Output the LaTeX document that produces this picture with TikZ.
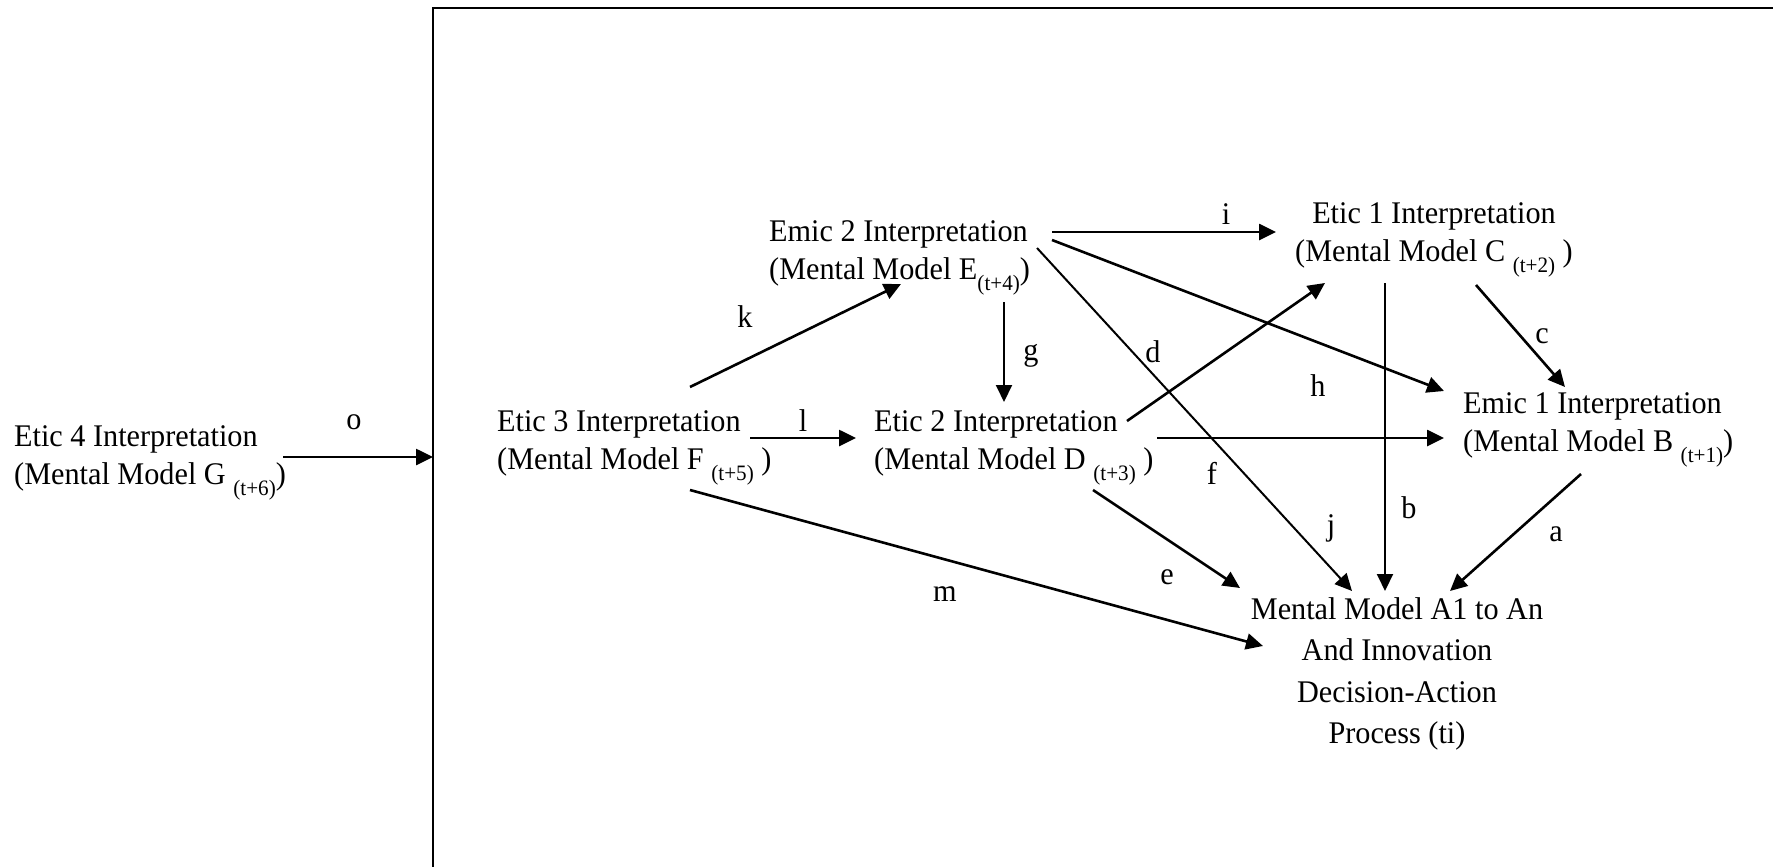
\documentclass[tikz,border=0pt]{standalone}
\usepackage{fontspec}
\setmainfont{Liberation Serif}[FakeStretch=0.96]
\usetikzlibrary{arrows.meta}
% lowered, smaller time index
\newcommand\tsub[1]{\raisebox{-11pt}{\fontsize{22}{22}\selectfont #1}}
\begin{document}
\begin{tikzpicture}[x=1pt,y=-1pt,
  txt/.style={inner sep=0pt, font=\fontsize{31.5}{38}\selectfont},
  lbl/.style={inner sep=0pt, font=\fontsize{31.5}{36}\selectfont},
  arr/.style={line width=2.6pt, -{Triangle[length=17pt,width=16pt]}},
  thinarr/.style={arr, line width=2pt}]
\useasboundingbox (0,0) rectangle (1773,867);
\fill[white] (0,0) rectangle (1773,867);

% frame around the inner model
\draw[line width=1.5pt] (1773,8) -- (433,8) -- (433,867);
\coordinate (frame) at (433,457);

% interpretations
\node[txt, anchor=north west, align=left] (G) at (14,425)
  {Etic 4 Interpretation\\(Mental Model G \tsub{(t+6)})};
\node[txt, anchor=north west, align=left] (F) at (497,410)
  {Etic 3 Interpretation\\(Mental Model F \tsub{(t+5)} )};
\node[txt, anchor=north west, align=left] (E) at (769,220)
  {Emic 2 Interpretation\\(Mental Model E\tsub{(t+4)})};
\node[txt, anchor=north west, align=left] (D) at (874,410)
  {Etic 2 Interpretation\\(Mental Model D \tsub{(t+3)} )};
\node[txt, anchor=north, align=center] (C) at (1434,202)
  {Etic 1 Interpretation\\(Mental Model C \tsub{(t+2)} )};
\node[txt, anchor=north west, align=left] (B) at (1463,392)
  {Emic 1 Interpretation\\(Mental Model B \tsub{(t+1)})};
\node[txt, anchor=north, align=center, font=\fontsize{31.5}{41.5}\selectfont] (A) at (1397,597)
  {Mental Model A1 to An\\And Innovation\\Decision-Action\\Process (ti)};

% connector end points
\coordinate (G-o) at (283,457);
\coordinate (F-k) at (690,387);  \coordinate (E-k) at (901,284);
\coordinate (F-l) at (750,438);  \coordinate (D-l) at (856,438);
\coordinate (F-m) at (690,490);  \coordinate (A-m) at (1263,646);
\coordinate (E-i) at (1052,232); \coordinate (C-i) at (1276,232);
\coordinate (E-g) at (1004,302); \coordinate (D-g) at (1004,402);
\coordinate (E-h) at (1052,240); \coordinate (B-h) at (1444,391);
\coordinate (E-j) at (1037,248); \coordinate (A-j) at (1352,591);
\coordinate (D-d) at (1127,421); \coordinate (C-d) at (1325,283);
\coordinate (D-f) at (1157,438); \coordinate (B-f) at (1444,438);
\coordinate (D-e) at (1093,490); \coordinate (A-e) at (1240,588);
\coordinate (C-c) at (1476,285); \coordinate (B-c) at (1565,387);
\coordinate (C-b) at (1385,283); \coordinate (A-b) at (1385,591);
\coordinate (B-a) at (1581,474); \coordinate (A-a) at (1450,591);

% connectors
\draw[arr] (G-o) -- (frame);
\draw[arr] (F-k) -- (E-k);
\draw[arr] (F-l) -- (D-l);
\draw[arr] (F-m) -- (A-m);
\draw[arr] (E-i) -- (C-i);
\draw[thinarr] (E-g) -- (D-g);
\draw[arr] (E-h) -- (B-h);
\draw[thinarr] (E-j) -- (A-j);
\draw[arr] (D-d) -- (C-d);
\draw[arr] (D-f) -- (B-f);
\draw[arr] (D-e) -- (A-e);
\draw[arr] (C-c) -- (B-c);
\draw[thinarr] (C-b) -- (A-b);
\draw[arr] (B-a) -- (A-a);

% connector labels
\node[lbl] (lo) at (354,422) {o};
\node[lbl] (lk) at (745,317) {k};
\node[lbl] (ll) at (803,421) {l};
\node[lbl] (lm) at (945,594) {m};
\node[lbl] (li) at (1226,214) {i};
\node[lbl] (lg) at (1031,356) {g};
\node[lbl] (ld) at (1153,352) {d};
\node[lbl] (lh) at (1318,386) {h};
\node[lbl] (lf) at (1212,473) {f};
\node[lbl] (lj) at (1331,528) {j};
\node[lbl] (le) at (1167,577) {e};
\node[lbl] (lb) at (1409,508) {b};
\node[lbl] (la) at (1556,534) {a};
\node[lbl] (lc) at (1542,336) {c};
\end{tikzpicture}
\end{document}
